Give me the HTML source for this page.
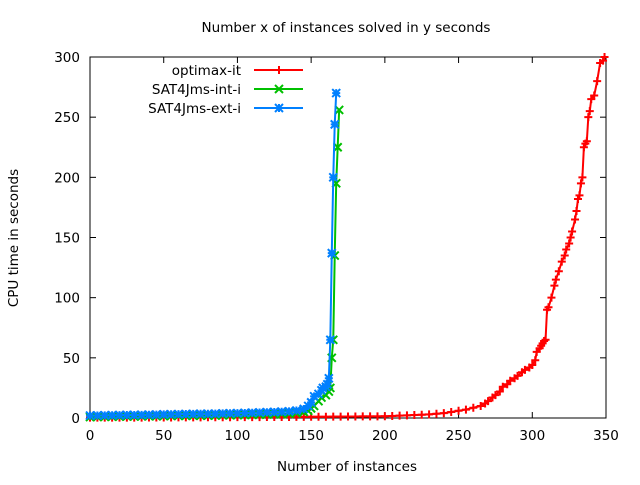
<!DOCTYPE html>
<html><head><meta charset="utf-8"><style>
body{margin:0;background:#fff}
svg{font-family:"DejaVu Sans","Liberation Sans",sans-serif}
</style></head><body>
<svg width="640" height="480" id="c" xmlns="http://www.w3.org/2000/svg">
<rect width="640" height="480" fill="#fff"/>
<text x="346" y="32" text-anchor="middle" font-size="13.5">Number x of instances solved in y seconds</text>
<text x="347" y="471" text-anchor="middle" font-size="13.5">Number of instances</text>
<text transform="translate(18,238) rotate(-90)" text-anchor="middle" font-size="13.5">CPU time in seconds</text>
<g id="axes"></g><g id="series"></g><g id="legend"></g>
</svg>
<script>
const xTicks=[0,50,100,150,200,250,300,350];
const yTicks=[0,50,100,150,200,250,300];
const redX=[0,5,10,15,20,25,30,35,40,45,50,55,60,65,70,75,80,85,90,95,100,105,110,115,120,125,130,135,140,145,150,155,160,165,170,175,180,185,190,195,200,205,210,215,220,225,230,235,240,245,250,255,260,265,268,270,273,275,278,280,283,285,288,290,293,295,298,300,302,303,305,306,307,308,309,310,311,313,315,316,318,320,322,323,325,326,327,329,330,331,332,333,334,335,336,337,338,339,340,342,344,346,348,349];
const redY=[0.3,0.3,0.3,0.3,0.3,0.3,0.35,0.35,0.4,0.4,0.45,0.45,0.5,0.5,0.55,0.55,0.6,0.6,0.65,0.65,0.7,0.7,0.75,0.75,0.8,0.8,0.85,0.85,0.9,0.95,1,1,1.05,1.1,1.15,1.2,1.25,1.3,1.35,1.4,1.5,1.7,2,2.2,2.5,2.7,3,3.5,4,5,6,7,8.5,10,12,14,17,19,22,26,28,31,33,35,38,40,42,44,48,55,58,60,62,64,65,90,92,100,110,115,122,130,135,140,145,150,155,165,172,182,185,195,200,225,228,230,250,255,265,268,280,295,297,300];
const greenX=[0,5,10,15,20,25,30,35,40,45,50,55,60,65,70,75,80,85,90,95,100,105,110,115,120,125,130,135,140,145,148,150,152,155,157,160,162,163,164,165,166,167,168,169];
const greenY=[0.8,0.9,1,1.1,1.2,1.3,1.3,1.4,1.5,1.5,1.6,1.7,1.8,1.8,1.9,1.9,2,2.1,2.2,2.4,2.5,2.6,2.7,2.8,3,3.1,3.3,3.5,4,5,6,8,10,14,17,19,22,25,50,65,135,195,225,256];
const blueX=[0,5,10,15,20,25,30,35,40,45,50,55,60,65,70,75,80,85,90,95,100,105,110,115,120,125,130,135,140,145,148,150,152,155,157,158,160,161,162,163,164,165,166,167];
const blueY=[2,2.1,2.2,2.3,2.4,2.5,2.5,2.6,2.7,2.8,3,3.1,3.2,3.3,3.4,3.5,3.5,3.6,3.8,3.9,4,4.2,4.4,4.6,4.8,5,5.2,5.5,6.2,7.5,10,13,18,20,23,25,26,28,33,65,137,200,244,270];
const L=90,R=606,T=57,B=418;
const sx=v=>L+(v/350)*(R-L), sy=v=>B-(v/300)*(B-T);
const NS='http://www.w3.org/2000/svg';
function mk(t,a,p){const e=document.createElementNS(NS,t);for(const k in a)e.setAttribute(k,a[k]);p.appendChild(e);return e;}
const ax=document.getElementById('axes');
xTicks.forEach(v=>{
 const g=mk('g',{},ax);
 
 
 mk('line',{x1:sx(v),x2:sx(v),y1:B,y2:B-6,stroke:'#000'},g);
 mk('line',{x1:sx(v),x2:sx(v),y1:T,y2:T+6,stroke:'#000'},g);
 const t=mk('text',{x:sx(v),y:B+22,'text-anchor':'middle','font-size':13.5},g);t.textContent=v;
});
yTicks.forEach(v=>{
 const g=mk('g',{},ax);
 
 
 mk('line',{x1:L,x2:L+6,y1:sy(v),y2:sy(v),stroke:'#000'},g);
 mk('line',{x1:R,x2:R-6,y1:sy(v),y2:sy(v),stroke:'#000'},g);
 const t=mk('text',{x:L-10,y:sy(v)+5,'text-anchor':'end','font-size':13.5},g);t.textContent=v;
});
const fr=mk('rect',{x:L,y:T,width:R-L,height:B-T,fill:'none',stroke:'#000'},ax);


function marker(g,type,x,y,c){
 const s=4;
 if(type==='plus'){mk('path',{d:`M${x-s} ${y}H${x+s}M${x} ${y-s}V${y+s}`,stroke:c,'stroke-width':2},g);}
 else if(type==='x'){mk('path',{d:`M${x-s} ${y-s}L${x+s} ${y+s}M${x-s} ${y+s}L${x+s} ${y-s}`,stroke:c,'stroke-width':2},g);}
 else {mk('path',{d:`M${x-s} ${y-s}L${x+s} ${y+s}M${x-s} ${y+s}L${x+s} ${y-s}M${x-s} ${y}H${x+s}M${x} ${y-s}V${y+s}`,stroke:c,'stroke-width':2},g);}
}
const sg=document.getElementById('series');
function series(name,xs,ys,c,type){
 const g=mk('g',{},sg);
 
 
 mk('polyline',{points:xs.map((x,i)=>sx(x)+','+sy(ys[i])).join(' '),fill:'none',stroke:c,'stroke-width':2},g);
 xs.forEach((x,i)=>marker(g,type,sx(x),sy(ys[i]),c));
}
series('series-optimax-it',redX,redY,'#ff0000','plus');
series('series-sat4jms-int-i',greenX,greenY,'#00c000','x');
series('series-sat4jms-ext-i',blueX,blueY,'#0080ff','star');
const lg=document.getElementById('legend');
[['optimax-it','#ff0000','plus'],['SAT4Jms-int-i','#00c000','x'],['SAT4Jms-ext-i','#0080ff','star']].forEach((e,i)=>{
 const y=70+i*19;
 const g=mk('g',{},lg);
 
 
 const t=mk('text',{x:241,y:y+5,'text-anchor':'end','font-size':13.5},g);t.textContent=e[0];
 mk('line',{x1:254,x2:303,y1:y,y2:y,stroke:e[1],'stroke-width':2},g);
 marker(g,e[2],279,y,e[1]);
});
</script>
</body></html>
